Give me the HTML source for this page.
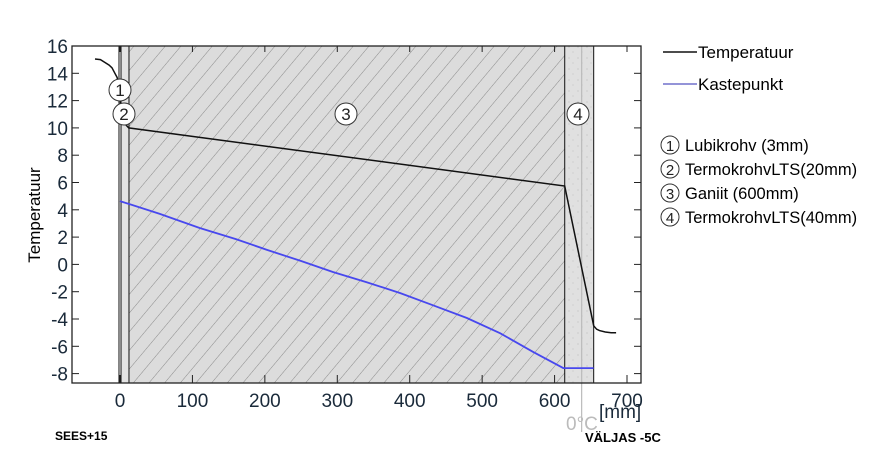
<!DOCTYPE html>
<html><head><meta charset="utf-8">
<style>
body{margin:0;background:#fff;width:891px;height:455px;overflow:hidden;font-family:"Liberation Sans",sans-serif}
svg{display:block}
</style></head>
<body>
<svg id="chart" width="891" height="455" xmlns="http://www.w3.org/2000/svg">
<defs>
<pattern id="hatch" patternUnits="userSpaceOnUse" width="12" height="12" patternTransform="rotate(40)">
<rect width="12" height="12" fill="#dcdcdc"/>
<line x1="0" y1="0" x2="0" y2="12" stroke="#8a8a8a" stroke-width="1"/>
</pattern>
<pattern id="dots" patternUnits="userSpaceOnUse" width="9" height="11">
<rect width="9" height="11" fill="#e0e0e0"/>
<circle cx="2" cy="3" r="0.5" fill="#aaa"/><circle cx="6" cy="8" r="0.5" fill="#b5b5b5"/>
</pattern>
</defs>
<g id="plot"></g>
</svg>
<script>
const xTicks=[0,100,200,300,400,500,600,700];
const yTicks=[16,14,12,10,8,6,4,2,0,-2,-4,-6,-8];
const layerBounds=[-1.4,1.4,12.4,614,654];
const layerLabels=["1","2","3","4"];
const tempX=[-34.5,-27,-21,-15,-11,-7,-4,-1.5,0.5,1.5,12,614,654,658,662,670,678,685];
const tempY=[15.05,15.0,14.8,14.6,14.4,14.0,13.7,13.1,12.0,10.6,10.0,5.74,-4.5,-4.75,-4.85,-4.95,-5.0,-5.0];
const dewX=[0,55,110,160,203,250,294,340,387,430,479,525,570,612,654];
const dewY=[4.64,3.7,2.67,1.85,1.06,0.25,-0.56,-1.3,-2.1,-2.95,-3.93,-5.05,-6.4,-7.6,-7.6];
const zeroLineX=636;

const L=72,R=641,T=46,B=383;
const sx=v=>120+v*0.7243;
const sy=v=>46+(16-v)*13.65;
const NS="http://www.w3.org/2000/svg";
const g=document.getElementById('plot');
function mk(tag,attrs,parent){const e=document.createElementNS(NS,tag);for(const k in attrs)e.setAttribute(k,attrs[k]);(parent||g).appendChild(e);return e;}

const fills=["#ffffff","#e4e4e4","url(#hatch)","url(#dots)"];
for(let i=0;i<4;i++){
  const r=mk('rect',{x:sx(layerBounds[i]),y:T,width:sx(layerBounds[i+1])-sx(layerBounds[i]),height:B-T,fill:fills[i]});
  
  
}
layerBounds.forEach(b=>{mk('line',{x1:sx(b),y1:T,x2:sx(b),y2:B,stroke:'#111','stroke-width':1});});
const zl=mk('line',{x1:sx(zeroLineX)+1,y1:T,x2:sx(zeroLineX)+1,y2:432,stroke:'#bbb','stroke-width':1.2});


const fr=mk('rect',{x:L,y:T,width:R-L,height:B-T,fill:'none',stroke:'#222','stroke-width':1.3});


xTicks.forEach(t=>{
  const x=sx(t);
  mk('line',{x1:x,y1:B,x2:x,y2:B-8,stroke:'#222'});
  mk('line',{x1:x,y1:T,x2:x,y2:T+6,stroke:'#222'});
  const tx=mk('text',{x:x,y:B+24,'text-anchor':'middle','font-size':19,fill:'#1a2a3a'});
  tx.textContent=t;
  
  
});
yTicks.forEach(t=>{
  const y=sy(t);
  mk('line',{x1:L,y1:y,x2:L+7,y2:y,stroke:'#222'});
  mk('line',{x1:R,y1:y,x2:R-7,y2:y,stroke:'#222'});
  const tx=mk('text',{x:L-4,y:y+7,'text-anchor':'end','font-size':19,fill:'#1a2a3a'});
  tx.textContent=t;
  
  
});
function path(xs,ys){return xs.map((v,i)=>(i?'L':'M')+sx(v).toFixed(1)+','+sy(ys[i]).toFixed(1)).join(' ');}
const dl=mk('path',{d:path(dewX,dewY),fill:'none',stroke:'#4848ee','stroke-width':1.8});


const tl=mk('path',{d:path(tempX,tempY),fill:'none',stroke:'#111','stroke-width':1.5});


const labPos=[[120,90],[124,114],[346,114],[578,114]];
labPos.forEach((p,i)=>{
  const c=mk('circle',{cx:p[0],cy:p[1],r:11,fill:'#fff',stroke:'#333','stroke-width':1});
  
  
  const t=mk('text',{x:p[0],y:p[1]+6,'text-anchor':'middle','font-size':17,fill:'#222'});
  t.textContent=layerLabels[i];
});
// legend
const legItems=[["Temperatuur","#111",52],["Kastepunkt","#7070cc",84]];
legItems.forEach((it,i)=>{
  mk('line',{x1:663,y1:it[2],x2:697,y2:it[2],stroke:it[1],'stroke-width':1.5});
  const t=mk('text',{x:698,y:it[2]+6,'font-size':17,fill:'#000'});
  t.textContent=it[0];
  
  
});
const legLayers=["Lubikrohv (3mm)","TermokrohvLTS(20mm)","Ganiit (600mm)","TermokrohvLTS(40mm)"];
legLayers.forEach((s,i)=>{
  const y=145+i*24;
  mk('circle',{cx:670,cy:y,r:9,fill:'#fff',stroke:'#333','stroke-width':1});
  const n=mk('text',{x:670,y:y+6,'text-anchor':'middle','font-size':15,fill:'#222'});
  n.textContent=layerLabels[i];
  const t=mk('text',{x:685,y:y+6,'font-size':16.5,fill:'#000'});
  t.textContent=s;
  
  
});
</script>
<div style="position:absolute;left:0;top:0;width:891px;height:455px;pointer-events:none">
<div style="position:absolute;left:566px;top:414px;font-size:19px;color:#bbb">0°C</div>
<div style="position:absolute;left:599px;top:402px;font-size:19px;color:#1a2a3a">[mm]</div>
<div style="position:absolute;left:-20px;top:205px;width:110px;text-align:center;font-size:17px;transform:rotate(-90deg)">Temperatuur</div>
<div style="position:absolute;left:55px;top:429px;font-size:12px;font-weight:bold">SEES+15</div>
<div style="position:absolute;left:585px;top:430px;font-size:13px;font-weight:bold;background:#fff">VÄLJAS -5C</div>
</div>
</body></html>
